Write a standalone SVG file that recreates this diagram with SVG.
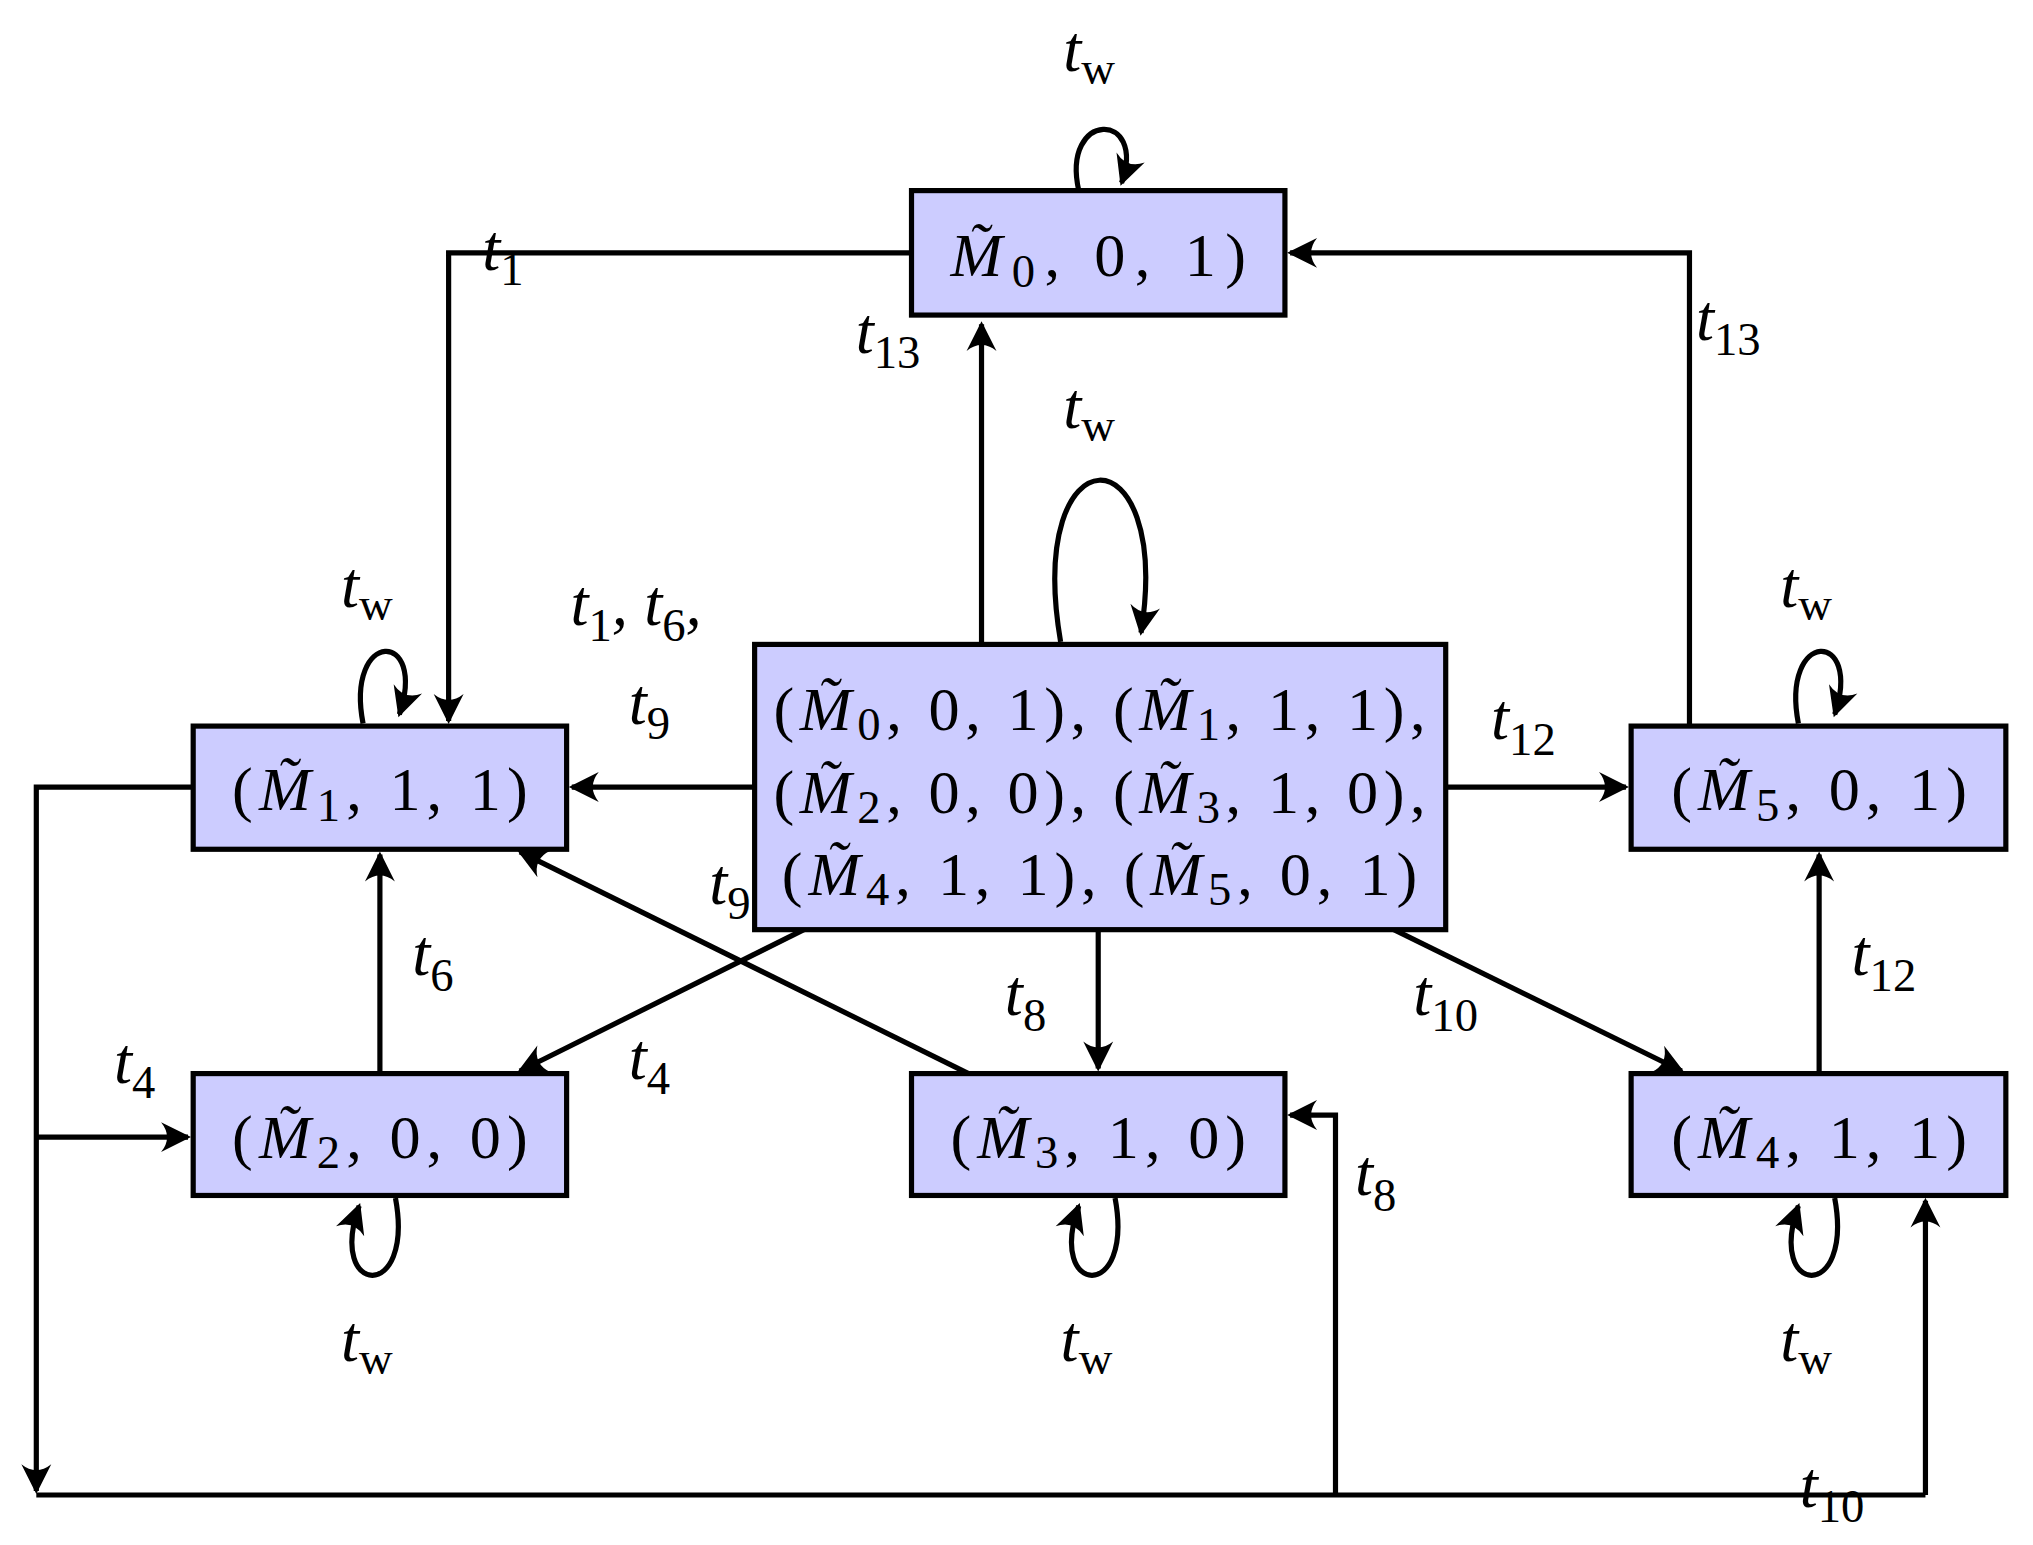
<svg xmlns="http://www.w3.org/2000/svg" width="2033" height="1545" viewBox="0 0 2033 1545">
<style>
.n rect{fill:#ccccff;stroke:#000;stroke-width:4}
.n text{font-family:"Liberation Serif","DejaVu Serif",serif;font-size:48px;text-anchor:middle}
.e path{fill:none;stroke:#000;stroke-width:4;marker-end:url(#a)}
.e path.p{marker-end:none}
.l{font-family:"Liberation Serif","DejaVu Serif",serif;font-size:50px;font-style:italic}
.s{font-size:36px;font-style:normal}
</style>
<defs><marker id="a" markerUnits="userSpaceOnUse" markerWidth="30" markerHeight="30" viewBox="-22 -12 26 24" refX="0" refY="0" orient="auto"><path d="M2,0 L-18,-10 Q-10,0 -18,10 Z" fill="#000"/></marker></defs>
<rect width="2033" height="1545" fill="#fff"/>
<g transform="scale(1.2966)">
<g class="e" id="edges">
<path d="M703,195 H346 V556"/>
<path d="M757,497 V250"/>
<path d="M1303,560 V195 H995"/>
<path d="M818,495 C790,330 905,330 880,488"/>
<path d="M582,607 H441"/>
<path d="M1115,607 H1254"/>
<path d="M620,717 L401,826"/>
<path d="M747,828 L401,657"/>
<path d="M847,717 V824"/>
<path d="M1075,717 L1297,826"/>
<path d="M293,828 V659"/>
<path d="M1403,828 V659"/>
<path d="M149,607 H28 V1150"/>
<path d="M28,877 H145"/>
<path class="p" d="M28,1153 H1485"/>
<path d="M1485,1153 V926"/>
<path d="M1030,1153 V860 H995"/>
<path d="M832,147 C818,85 885,85 865,141"/>
<path d="M280,558 C266,485 330,485 308,551"/>
<path d="M1387,558 C1373,485 1437,485 1415,551"/>
<path d="M305,924 C320,1005 252,1000 277,930"/>
<path d="M860,924 C875,1005 807,1000 832,930"/>
<path d="M1415,924 C1430,1005 1362,1000 1387,930"/>
</g>
<g class="n" id="n0"><rect x="703" y="147" width="288" height="96"/><text x="847" y="213" textLength="228"><tspan font-style="italic">M̃</tspan><tspan class="s" dy="8">0</tspan><tspan dy="-8">, 0, 1)</tspan></text></g>
<g class="n" id="n1"><rect x="149" y="560" width="288" height="95"/><text x="293" y="625" textLength="228">(<tspan font-style="italic">M̃</tspan><tspan class="s" dy="8">1</tspan><tspan dy="-8">, 1, 1)</tspan></text></g>
<g class="n" id="n2"><rect x="149" y="828" width="288" height="94"/><text x="293" y="893" textLength="228">(<tspan font-style="italic">M̃</tspan><tspan class="s" dy="8">2</tspan><tspan dy="-8">, 0, 0)</tspan></text></g>
<g class="n" id="n3"><rect x="703" y="828" width="288" height="94"/><text x="847" y="893" textLength="228">(<tspan font-style="italic">M̃</tspan><tspan class="s" dy="8">3</tspan><tspan dy="-8">, 1, 0)</tspan></text></g>
<g class="n" id="n4"><rect x="1258" y="828" width="289" height="94"/><text x="1403" y="893" textLength="228">(<tspan font-style="italic">M̃</tspan><tspan class="s" dy="8">4</tspan><tspan dy="-8">, 1, 1)</tspan></text></g>
<g class="n" id="n5"><rect x="1258" y="560" width="289" height="95"/><text x="1403" y="625" textLength="228">(<tspan font-style="italic">M̃</tspan><tspan class="s" dy="8">5</tspan><tspan dy="-8">, 0, 1)</tspan></text></g>
<g class="n" id="nc"><rect x="582" y="497" width="533" height="220"/>
<text x="848" y="563" textLength="503">(<tspan font-style="italic">M̃</tspan><tspan class="s" dy="8">0</tspan><tspan dy="-8">, 0, 1), (</tspan><tspan font-style="italic">M̃</tspan><tspan class="s" dy="8">1</tspan><tspan dy="-8">, 1, 1),</tspan></text>
<text x="848" y="627" textLength="503">(<tspan font-style="italic">M̃</tspan><tspan class="s" dy="8">2</tspan><tspan dy="-8">, 0, 0), (</tspan><tspan font-style="italic">M̃</tspan><tspan class="s" dy="8">3</tspan><tspan dy="-8">, 1, 0),</tspan></text>
<text x="848" y="690" textLength="490">(<tspan font-style="italic">M̃</tspan><tspan class="s" dy="8">4</tspan><tspan dy="-8">, 1, 1), (</tspan><tspan font-style="italic">M̃</tspan><tspan class="s" dy="8">5</tspan><tspan dy="-8">, 0, 1)</tspan></text>
</g>
<g id="labels" class="l">
<text x="820" y="55">t<tspan class="s" dy="10">w</tspan></text>
<text x="820" y="330">t<tspan class="s" dy="10">w</tspan></text>
<text x="263" y="468">t<tspan class="s" dy="10">w</tspan></text>
<text x="1373" y="468">t<tspan class="s" dy="10">w</tspan></text>
<text x="263" y="1050">t<tspan class="s" dy="10">w</tspan></text>
<text x="818" y="1050">t<tspan class="s" dy="10">w</tspan></text>
<text x="1373" y="1050">t<tspan class="s" dy="10">w</tspan></text>
<text x="372" y="208">t<tspan class="s" dy="12">1</tspan></text>
<text x="660" y="272">t<tspan class="s" dy="12">13</tspan></text>
<text x="1308" y="262">t<tspan class="s" dy="12">13</tspan></text>
<text x="440" y="482">t<tspan class="s" dy="12">1</tspan><tspan dy="-12">, t</tspan><tspan class="s" dy="12">6</tspan><tspan dy="-12">,</tspan></text>
<text x="485" y="558">t<tspan class="s" dy="12">9</tspan></text>
<text x="1150" y="570">t<tspan class="s" dy="12">12</tspan></text>
<text x="547" y="697">t<tspan class="s" dy="12">9</tspan></text>
<text x="318" y="752">t<tspan class="s" dy="12">6</tspan></text>
<text x="1428" y="752">t<tspan class="s" dy="12">12</tspan></text>
<text x="775" y="783">t<tspan class="s" dy="12">8</tspan></text>
<text x="1090" y="783">t<tspan class="s" dy="12">10</tspan></text>
<text x="88" y="835">t<tspan class="s" dy="12">4</tspan></text>
<text x="485" y="832">t<tspan class="s" dy="12">4</tspan></text>
<text x="1045" y="922">t<tspan class="s" dy="12">8</tspan></text>
<text x="1388" y="1162">t<tspan class="s" dy="12">10</tspan></text>
</g>
</g>
</svg>
